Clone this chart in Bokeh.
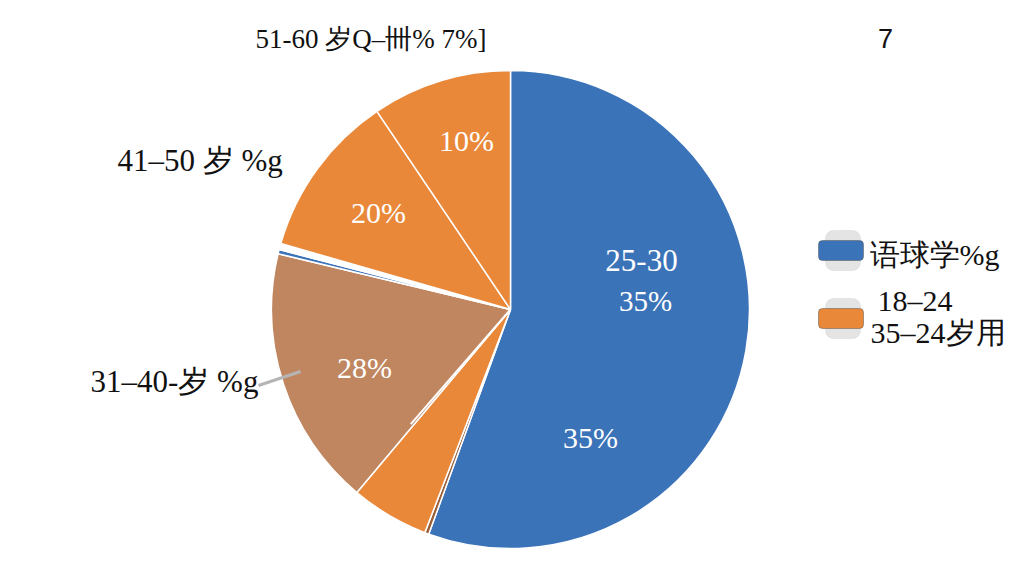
import numpy as np
from bokeh.plotting import figure
from bokeh.models import Range1d, BoxAnnotation, ColumnDataSource
from bokeh.core.properties import value
from bokeh.embed import file_html
from bokeh.resources import INLINE

# ---- data (visual shares of the pie, in percent, clockwise from 12 o'clock)
slice_names = ["25-30", "sliver-a", "18-24", "31-40", "sliver-b", "gap", "41-50", "51-60"]
slice_share = [55.56, 0.28, 5.28, 17.64, 0.28, 0.42, 11.11, 9.44]
slice_labels = ["35%", "", "", "28%", "", "", "20%", "10%"]
blue_title = "25-30"
blue_second = "35%"
top_label = "51-60 岁Q–卌% 7%]"
corner_label = "7"
left_labels = ["41–50 岁 %g", "31–40-岁 %g"]
legend_labels = ["语球学%g", "18–24", "35–24岁用"]

# ---- styles
slice_colors = ["#3b73b9", "#9a5f38", "#ea883a", "#c08660", "#3b73b9", "#ffffff", "#ea883a", "#ea883a"]
SERIF = value("Liberation Serif")
SANS = value("Liberation Sans")

W, H = 1008, 560
p = figure(width=W, height=H, output_backend="svg", toolbar_location=None,
           x_range=Range1d(0, 1008), y_range=Range1d(0, 560),
           min_border=0, min_border_left=0, min_border_right=0,
           min_border_top=0, min_border_bottom=0)
p.axis.visible = False
p.grid.visible = False
p.outline_line_color = None
p.background_fill_color = "white"
p.border_fill_color = "white"

def Y(py):
    return 560 - py

cx, cy, r = 510, Y(309), 239
shares = np.array(slice_share, dtype=float)
cum = np.concatenate([[0.0], np.cumsum(shares)]) / shares.sum() * 2 * np.pi
start = np.pi / 2 - cum[1:]
end = np.pi / 2 - cum[:-1]
src = ColumnDataSource(dict(start=start, end=end, color=slice_colors, name=slice_names))
p.wedge(x=cx, y=cy, radius=r, start_angle="start", end_angle="end",
        fill_color="color", line_color="white", line_width=1.5, source=src)

# extra white line inside the lower orange slice
a = np.pi / 2 - np.deg2rad(221)
p.line([cx, cx + 152 * np.cos(a)], [cy, cy + 152 * np.sin(a)], line_color="white", line_width=2)

# in-slice labels
lab_x = [590, 364, 378, 466]
lab_y = [Y(437), Y(367), Y(212), Y(140)]
lab_t = [slice_labels[0], slice_labels[3], slice_labels[6], slice_labels[7]]
p.text(x=lab_x, y=lab_y, text=lab_t, text_color="white", text_font=SERIF,
       text_font_size="30px", text_align="center", text_baseline="middle")
p.text(x=[641], y=[Y(260)], text=[blue_title], text_color="white",
       text_font=SERIF, text_font_size="31px", text_align="center", text_baseline="middle")
p.text(x=[645], y=[Y(300)], text=[blue_second], text_color="white",
       text_font=SERIF, text_font_size="29px", text_align="center", text_baseline="middle")

# outside labels
p.text(x=[255], y=[Y(38)], text=[top_label], text_color="#111111", text_font=SERIF,
       text_font_size="27px", text_align="left", text_baseline="middle")
p.text(x=[885], y=[Y(38)], text=[corner_label], text_color="#111111", text_font=SANS,
       text_font_size="27px", text_align="center", text_baseline="middle")
p.text(x=[117], y=[Y(160)], text=[left_labels[0]], text_color="#111111", text_font=SERIF,
       text_font_size="31px", text_align="left", text_baseline="middle")
p.text(x=[90], y=[Y(381)], text=[left_labels[1]], text_color="#111111", text_font=SERIF,
       text_font_size="31px", text_align="left", text_baseline="middle")

# leader line
p.line([258, 300], [Y(385), Y(371)], line_color="#b5b5b5", line_width=3)

# legend swatches
for top, bot, col in [(230, 270, "#3b73b9"), (298, 338, "#ea883a")]:
    p.add_layout(BoxAnnotation(left=825, right=860, top=Y(top), bottom=Y(bot),
                               fill_color="#e4e4e4", fill_alpha=1, line_color="#c8c8c8",
                               line_width=1, border_radius=8))
    mid = (top + bot) / 2
    p.add_layout(BoxAnnotation(left=818, right=863, top=Y(mid - 10), bottom=Y(mid + 10),
                               fill_color=col, fill_alpha=1, line_color="#555555",
                               line_alpha=0.5, line_width=1, border_radius=4))

p.text(x=[869], y=[Y(254)], text=[legend_labels[0]], text_color="#111111", text_font=SERIF,
       text_font_size="30px", text_align="left", text_baseline="middle")
p.text(x=[877], y=[Y(300)], text=[legend_labels[1]], text_color="#111111",
       text_font=SERIF, text_font_size="30px", text_align="left", text_baseline="middle")
p.text(x=[870], y=[Y(332)], text=[legend_labels[2]], text_color="#111111",
       text_font=SERIF, text_font_size="30px", text_align="left", text_baseline="middle")

open("out.html", "w").write(file_html(p, INLINE))
